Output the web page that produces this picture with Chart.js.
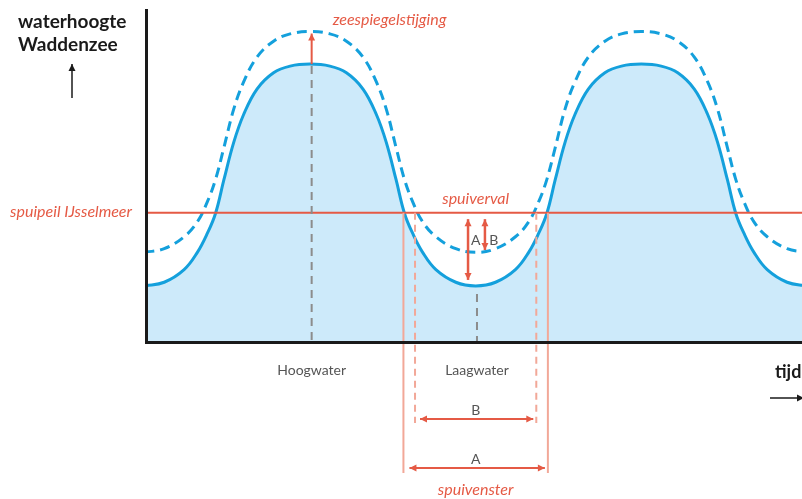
<!DOCTYPE html>
<html>
<head>
<meta charset="utf-8">
<title>Spuivenster</title>
<script src="https://cdn.jsdelivr.net/npm/chart.js@4.4.1/dist/chart.umd.min.js"></script>
<style>
  body { margin: 0; background: #fff; }
  #wrap { width: 802px; height: 499px; position: relative; }
</style>
</head>
<body>
<div id="wrap"><canvas id="getij"></canvas></div>
<script>
// ------------------------------------------------------------------
// Getij Waddenzee t.o.v. spuipeil IJsselmeer (waarden afgelezen)
// ------------------------------------------------------------------
const tijd = [0, 0.6, 1.2, 1.6, 1.9, 2.15, 2.4, 2.7, 3.0, 3.4, 3.9, 4.4, 5,
              5.6, 6.1, 6.6, 7.0, 7.3, 7.6, 7.85, 8.1, 8.4, 8.8, 9.4, 10,
              10.6, 11.2, 11.6, 11.9, 12.15, 12.4, 12.7, 13.0, 13.4, 13.9, 14.4, 15,
              15.6, 16.1, 16.6, 17.0, 17.3, 17.6, 17.85, 18.1, 18.4, 18.8, 19.4, 20];
// huidige waterstand (doorgetrokken lijn)
const huidig = [1.69, 1.80, 2.18, 2.70, 3.27, 3.88, 4.88, 6.02, 6.86, 7.62, 8.11, 8.31, 8.37,
                8.31, 8.11, 7.62, 6.86, 6.02, 4.88, 3.88, 3.27, 2.70, 2.18, 1.80, 1.69,
                1.80, 2.18, 2.70, 3.27, 3.88, 4.88, 6.02, 6.86, 7.62, 8.11, 8.31, 8.37,
                8.31, 8.11, 7.62, 6.86, 6.02, 4.88, 3.88, 3.27, 2.70, 2.18, 1.80, 1.69];
// waterstand na zeespiegelstijging (stippellijn)
const metStijging = [2.70, 2.81, 3.17, 3.62, 4.22, 4.90, 5.85, 7.02, 7.84, 8.58, 9.06, 9.28, 9.35,
                     9.28, 9.06, 8.58, 7.84, 7.02, 5.85, 4.90, 4.22, 3.62, 3.17, 2.81, 2.70,
                     2.81, 3.17, 3.62, 4.22, 4.90, 5.85, 7.02, 7.84, 8.58, 9.06, 9.28, 9.35,
                     9.28, 9.06, 8.58, 7.84, 7.02, 5.85, 4.90, 4.22, 3.62, 3.17, 2.81, 2.70];
const spuipeil = 3.89;
const tickWaarden = [5.05, 10.04];
const tickLabels = ['Hoogwater', 'Laagwater'];
// snijpunten met het spuipeil (spuivenster A en B)
const vensterA = [7.82, 12.18];
const vensterB = [8.17, 11.83];
// spuiverval A en B in het dal
const verval = { xA: 9.77, xB: 10.28, top: 3.70, onderA: 1.87, onderB: 2.77 };

const blauw = '#14a0dc';
const lichtBlauw = '#cdeafa';
const rood = '#e55a45';
const lichtRood = '#f2a898';
const grijs = '#555';

function pijlpunt(ctx, x, y, hoek, l) {
    ctx.save();
    ctx.translate(x, y);
    ctx.rotate(hoek);
    ctx.beginPath();
    ctx.moveTo(0, 0);
    ctx.lineTo(-l, -l / 2);
    ctx.lineTo(-l, l / 2);
    ctx.closePath();
    ctx.fill();
    ctx.restore();
}

function pijl(ctx, x1, y1, x2, y2, kleur, breedte, beide) {
    ctx.save();
    ctx.strokeStyle = kleur;
    ctx.fillStyle = kleur;
    ctx.lineWidth = breedte;
    ctx.beginPath();
    ctx.moveTo(x1, y1);
    ctx.lineTo(x2, y2);
    ctx.stroke();
    const hoek = Math.atan2(y2 - y1, x2 - x1);
    pijlpunt(ctx, x2, y2, hoek, 7);
    if (beide) pijlpunt(ctx, x1, y1, hoek + Math.PI, 7);
    ctx.restore();
}

function lijn(ctx, x1, y1, x2, y2, kleur, breedte, dash) {
    ctx.save();
    ctx.strokeStyle = kleur;
    ctx.lineWidth = breedte;
    ctx.setLineDash(dash || []);
    ctx.beginPath();
    ctx.moveTo(x1, y1);
    ctx.lineTo(x2, y2);
    ctx.stroke();
    ctx.restore();
}

function tekst(ctx, s, x, y, font, kleur, align) {
    ctx.save();
    ctx.font = font;
    ctx.fillStyle = kleur;
    ctx.textAlign = align || 'left';
    ctx.textBaseline = 'middle';
    ctx.fillText(s, x, y);
    ctx.restore();
}

const annotaties = {
    id: 'annotaties',
    afterDatasetsDraw(chart) {
        const ctx = chart.ctx;
        const sx = chart.scales.x, sy = chart.scales.y;
        const X = v => sx.getPixelForValue(v);
        const Y = v => sy.getPixelForValue(v);
        const onder = chart.chartArea.bottom;
        const links = chart.chartArea.left;
        const piek = Math.max(...huidig);
        const piekNieuw = Math.max(...metStijging);
        const dal = Math.min(...huidig);

        // grijze hulplijnen hoog- en laagwater
        lijn(ctx, X(tickWaarden[0]), Y(piek) + 2, X(tickWaarden[0]), onder, '#8c8c8c', 2, [8, 6]);
        lijn(ctx, X(tickWaarden[1]), Y(dal) + 8, X(tickWaarden[1]), onder, '#8c8c8c', 2, [8, 6]);

        // spuivenster lijnen
        vensterA.forEach(v => lijn(ctx, X(v), Y(spuipeil), X(v), onder + 131, lichtRood, 2));
        vensterB.forEach(v => lijn(ctx, X(v), Y(spuipeil), X(v), onder + 81, lichtRood, 2, [7, 5]));

        // zeespiegelstijging
        pijl(ctx, X(tickWaarden[0]), Y(piek), X(tickWaarden[0]), Y(piekNieuw) + 2, rood, 2);
        tekst(ctx, 'zeespiegelstijging', X(tickWaarden[0]) + 21, 20, 'italic 16px Lato', rood);

        // spuiverval
        tekst(ctx, 'spuiverval', X(10.0), Y(spuipeil) - 14, 'italic 16px Lato', rood, 'center');
        pijl(ctx, X(verval.xA), Y(verval.top), X(verval.xA), Y(verval.onderA), rood, 2.5, true);
        pijl(ctx, X(verval.xB), Y(verval.top), X(verval.xB), Y(verval.onderB), rood, 2.5, true);
        tekst(ctx, 'A', X(10.0), Y(3.07), '14px Lato', grijs, 'center');
        tekst(ctx, 'B', X(10.55), Y(3.07), '14px Lato', grijs, 'center');

        // spuivenster pijlen
        pijl(ctx, X(vensterB[0]) + 5, onder + 77, X(vensterB[1]) - 3, onder + 77, rood, 2, true);
        pijl(ctx, X(vensterA[0]) + 6, onder + 126, X(vensterA[1]) - 3, onder + 126, rood, 2, true);
        const midden = (X(vensterA[0]) + X(vensterA[1])) / 2;
        tekst(ctx, 'B', midden, onder + 68, '14px Lato', grijs, 'center');
        tekst(ctx, 'A', midden, onder + 117, '14px Lato', grijs, 'center');
        tekst(ctx, 'spuivenster', midden, onder + 148, 'italic 16px Lato', rood, 'center');

        // as-teksten
        tekst(ctx, 'waterhoogte', 18, 22, 'bold 19px Lato', '#1a1a1a');
        tekst(ctx, 'Waddenzee', 18, 45, 'bold 19px Lato', '#1a1a1a');
        pijl(ctx, 72, 98, 72, 64, '#1a1a1a', 1.5);
        tekst(ctx, 'spuipeil IJsselmeer', links - 14, Y(spuipeil) - 1, 'italic 16px Lato', rood, 'right');
        tekst(ctx, 'tijd', 775, onder + 30, 'bold 18px Lato', '#1a1a1a');
        pijl(ctx, 770, onder + 56, 804, onder + 56, '#1a1a1a', 1.5);
    }
};

const grafiek = new Chart(document.getElementById('getij'), {
    type: 'line',
    data: {
        datasets: [{
            label: 'spuipeil',
            data: [{ x: 0, y: spuipeil }, { x: 20, y: spuipeil }],
            borderColor: rood,
            borderWidth: 2,
            pointRadius: 0,
            order: 0,
        }, {
            label: 'na zeespiegelstijging',
            data: tijd.map((t, i) => ({ x: t, y: metStijging[i] })),
            borderColor: blauw,
            borderWidth: 3,
            borderDash: [10, 6],
            pointRadius: 0,
            tension: 0.4,
            order: 1,
        }, {
            label: 'waterstand',
            data: tijd.map((t, i) => ({ x: t, y: huidig[i] })),
            borderColor: blauw,
            backgroundColor: lichtBlauw,
            borderWidth: 3,
            fill: 'origin',
            pointRadius: 0,
            tension: 0.4,
            order: 2,
        }],
    },
    options: {
        responsive: true,
        maintainAspectRatio: false,
        animation: false,
        layout: { padding: { top: 10, left: 0, right: 0, bottom: 0 } },
        plugins: {
            legend: { display: false },
            tooltip: { enabled: false },
        },
        scales: {
            x: {
                type: 'linear',
                min: 0.05,
                max: 19.85,
                grid: { display: false, drawTicks: false },
                border: { color: '#1a1a1a', width: 3, z: 1 },
                afterBuildTicks: scale => { scale.ticks = tickWaarden.map(v => ({ value: v })); },
                afterFit: scale => { scale.height = 157; },
                ticks: {
                    padding: 20,
                    maxRotation: 0,
                    autoSkip: false,
                    color: grijs,
                    font: { family: 'Lato', size: 14 },
                    callback: (v, i) => tickLabels[i],
                },
            },
            y: {
                min: 0,
                max: 10,
                grid: { display: false, drawTicks: false },
                border: { color: '#1a1a1a', width: 3, z: 1 },
                ticks: { display: false },
                afterFit: scale => { scale.width = 146; },
            },
        },
    },
    plugins: [annotaties],
});
</script>
</body>
</html>
